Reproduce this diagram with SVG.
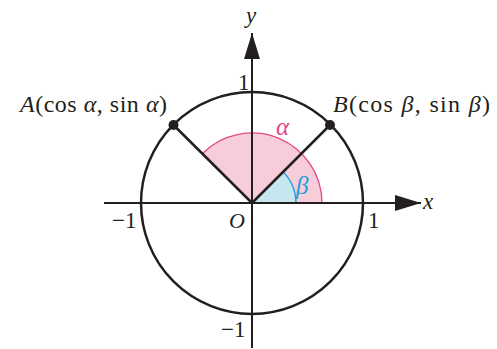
<svg xmlns="http://www.w3.org/2000/svg" width="497" height="349" viewBox="0 0 497 349">
<style>
.t{font-family:"Liberation Serif","Times New Roman",serif;font-size:23px;fill:#231f20}
.i{font-style:italic}
.blk{stroke:#231f20;fill:none}
</style>
<defs>
<marker id="arr" markerWidth="26" markerHeight="16" refX="26" refY="8" orient="auto" markerUnits="userSpaceOnUse">
<path d="M0,0 L26,8 L0,16 Z" fill="#231f20"/>
</marker>
</defs>
<g id="sectors">
<path d="M252,203 L322,203 A70,70 0 0 0 202.5,153.5 Z" fill="#f6cdd9"/>
<path d="M322,203 A70,70 0 0 0 202.5,153.5" fill="none" stroke="#e4468a" stroke-width="1.3"/>
<path d="M252,203 L296,203 A44,44 0 0 0 283.1,171.9 Z" fill="#c6e7f0"/>
<path d="M296,203 A44,44 0 0 0 283.1,171.9" fill="none" stroke="#1ea0dc" stroke-width="1.3"/>
</g>
<g id="circle">
<circle cx="252" cy="203" r="111" class="blk" stroke-width="2.5"/>
</g>
<g id="connectors">
<line x1="104" y1="203" x2="421" y2="203" class="blk" stroke-width="2" marker-end="url(#arr)"/>
<line x1="252" y1="348" x2="252" y2="33" class="blk" stroke-width="2" marker-end="url(#arr)"/>
<line x1="252" y1="203" x2="330" y2="125" class="blk" stroke-width="2.5"/>
<line x1="252" y1="203" x2="173.5" y2="125" class="blk" stroke-width="2.5"/>
</g>
<g id="pointA">
<circle cx="173.5" cy="125" r="5" fill="#231f20"/>
<text class="t" x="20" y="112" style="font-size:24px" textLength="147" lengthAdjust="spacing"><tspan class="i">A</tspan>(cos<tspan class="i"> α</tspan>, sin<tspan class="i"> α</tspan>)</text>
</g>
<g id="pointB">
<circle cx="330" cy="125" r="5" fill="#231f20"/>
<text class="t" x="333" y="112" style="font-size:24px" textLength="157" lengthAdjust="spacing"><tspan class="i">B</tspan>(cos<tspan class="i"> β</tspan>, sin<tspan class="i"> β</tspan>)</text>
</g>
<g id="labels">
<text class="t i" x="276" y="135" style="fill:#e4468a;font-size:25px">α</text>
<text class="t i" x="296" y="194" style="fill:#1ea0dc;font-size:25px">β</text>
<text class="t i" x="229" y="228" style="font-size:22px">O</text>
<text class="t i" x="423" y="209">x</text>
<text class="t i" x="246" y="23">y</text>
<text class="t" x="238" y="90">1</text>
<text class="t" x="368" y="228">1</text>
<text class="t" x="112" y="228">−1</text>
<text class="t" x="221" y="337">−1</text>
</g>
</svg>
